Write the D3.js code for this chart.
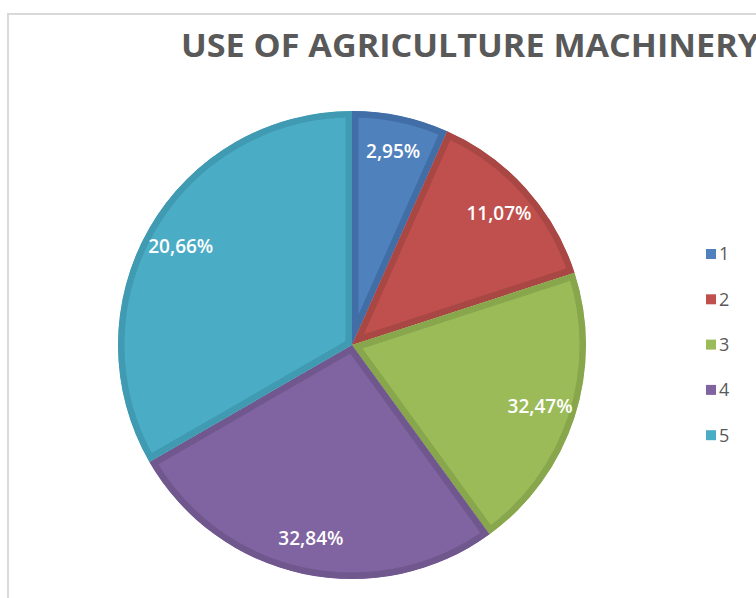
<!DOCTYPE html>
<html lang="en">
<head>
  <meta charset="utf-8">
  <title>Use of Agriculture Machinery</title>
  <script src="https://d3js.org/d3.v7.min.js"></script>
  <style>
    body { margin: 0; background: #fff; }
    text { font-family: "Open Sans", "Liberation Sans", sans-serif; }
  </style>
</head>
<body>
  <div id="chart"></div>
  <script>
    // category numbers, slice weights and the printed labels
    var categories = ["1", "2", "3", "4", "5"];
    var values = [1, 2, 3, 4, 5];
    var labels = ["2,95%", "11,07%", "32,47%", "32,84%", "20,66%"];
    var fills = ["#4f81bd", "#c0504d", "#9bbb59", "#8064a2", "#4bacc6"];
    var edges = ["#416ea6", "#a84744", "#88a64c", "#70588f", "#3f9ab2"];

    var width = 756, height = 598;
    var cx = 352, cy = 345, radius = 234;

    var svg = d3.select("#chart").append("svg")
      .attr("width", width)
      .attr("height", height);

    // chart frame
    svg.append("rect")
      .attr("x", 8).attr("y", 14)
      .attr("width", 800).attr("height", 700)
      .attr("fill", "#fff")
      .attr("stroke", "#d9d9d9")
      .attr("stroke-width", 2);

    svg.append("text")
      .attr("x", 181).attr("y", 57)
      .attr("font-size", 33)
      .attr("font-weight", "bold")
      .attr("fill", "#595959")
      .attr("textLength", 578)
      .attr("lengthAdjust", "spacingAndGlyphs")
      .text("USE OF AGRICULTURE MACHINERY");

    var pie = d3.pie().sort(null).value(d => d.value);
    var arc = d3.arc().innerRadius(0).outerRadius(radius);
    var labelArc = d3.arc().innerRadius(radius * 0.845).outerRadius(radius * 0.845);

    var data = categories.map((c, i) => ({ cat: c, value: values[i], label: labels[i], i: i }));
    var arcs = pie(data);

    var g = svg.append("g").attr("transform", `translate(${cx},${cy})`);

    var defs = svg.append("defs");
    defs.selectAll("clipPath")
      .data(arcs)
      .enter()
      .append("clipPath")
      .attr("id", d => "clip" + d.data.i)
      .append("path")
      .attr("d", arc);

    // inner darker border: stroke clipped to the slice itself
    g.selectAll("path.slice")
      .data(arcs)
      .enter()
      .append("path")
      .attr("class", "slice")
      .attr("d", arc)
      .attr("fill", d => fills[d.data.i])
      .attr("stroke", d => edges[d.data.i])
      .attr("stroke-width", 13)
      .attr("stroke-linejoin", "miter")
      .attr("clip-path", d => `url(#clip${d.data.i})`);

    g.selectAll("text.lbl")
      .data(arcs)
      .enter()
      .append("text")
      .attr("class", "lbl")
      .attr("transform", d => `translate(${labelArc.centroid(d)})`)
      .attr("text-anchor", "middle")
      .attr("dy", "0.36em")
      .attr("font-size", 19)
      .attr("font-weight", 600)
      .attr("fill", "#fff")
      .text(d => d.data.label);

    // legend
    var legend = svg.append("g").attr("transform", "translate(706, 254)");
    var item = legend.selectAll("g")
      .data(categories)
      .enter()
      .append("g")
      .attr("transform", (d, i) => `translate(0, ${i * 45.3})`);
    item.append("rect")
      .attr("x", 0).attr("y", -5)
      .attr("width", 10).attr("height", 10)
      .attr("fill", (d, i) => fills[i]);
    item.append("text")
      .attr("x", 13).attr("y", 0)
      .attr("dy", "0.35em")
      .attr("font-size", 18)
      .attr("fill", "#595959")
      .text(d => d);
  </script>
</body>
</html>
